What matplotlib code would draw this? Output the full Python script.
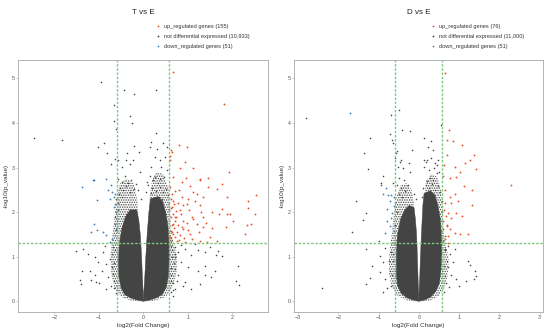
import matplotlib
matplotlib.use("Agg")
import matplotlib.pyplot as plt
from matplotlib.lines import Line2D
import numpy as np

plt.rcParams["font.family"] = ["Liberation Sans", "DejaVu Sans"]
plt.rcParams["hatch.linewidth"] = 0.7

#_____________________________________________________________________________
# T vs E : values

t_up_x = [0.66, 1.80, 0.80, 0.97, 0.64, 0.60, 0.94, 0.82, 1.12, 1.93, 0.67, 1.27, 1.45, 0.87, 1.05,
          1.65, 1.46, 1.76, 0.60, 0.79, 1.20, 0.86, 2.53, 2.34, 1.87, 0.67, 0.97, 1.27, 0.64, 0.82,
          1.54, 1.76, 1.95, 1.87, 2.51, 2.36, 1.09, 0.71, 1.35, 0.90, 1.20, 2.02, 2.41, 2.32, 1.85,
          0.67, 0.86, 1.01, 1.35, 2.28, 1.50, 0.64, 0.82, 1.09, 1.27, 1.42, 1.65, 0.75, 0.60, 0.94,
          0.61, 0.63, 0.66, 0.62, 0.68, 0.64, 0.70, 0.62, 0.66, 0.73, 0.61, 0.69, 0.76, 0.72, 0.78,
          0.74, 0.80, 0.62, 0.65, 0.70, 0.78, 0.85, 0.88, 0.92, 0.97, 1.02, 1.05, 1.12, 1.15, 1.25,
          1.30, 1.40, 1.12, 1.00, 0.90, 1.35, 1.55, 1.70, 0.95, 0.61, 0.59, 1.27]
t_up_y = [5.15, 4.43, 3.50, 3.46, 3.35, 3.16, 3.12, 3.00, 3.00, 2.89, 2.79, 2.73, 2.76, 2.67, 2.58,
          2.52, 2.56, 2.64, 2.56, 2.49, 2.41, 2.34, 2.39, 2.26, 2.34, 2.26, 2.19, 2.15, 2.11, 2.04,
          2.00, 2.06, 1.96, 1.95, 1.95, 2.09, 1.90, 1.89, 1.89, 1.81, 1.74, 1.81, 1.74, 1.70, 1.66,
          1.74, 1.66, 1.59, 1.66, 1.51, 1.44, 1.55, 1.48, 1.40, 1.36, 1.33, 1.36, 1.36, 1.44, 1.33,
          1.35, 1.42, 1.50, 1.58, 1.65, 1.72, 1.80, 1.88, 1.95, 2.02, 2.10, 2.18, 1.55, 1.45, 1.70,
          1.88, 1.38, 2.30, 2.40, 2.48, 2.20, 1.95, 1.62, 1.42, 1.75, 2.05, 1.50, 1.85, 2.25, 1.55,
          2.00, 1.75, 2.45, 2.30, 2.15, 2.35, 1.65, 1.95, 2.77, 3.39, 3.27, 2.75]

t_down_x = [-0.84, -1.12, -1.39, -0.80, -0.71, -0.64, -0.67, -0.76, -1.05, -0.64, -0.67, -0.61,
            -1.12, -1.18, -1.05, -0.90, -0.84, -0.71, -0.64, -0.75, -0.64, -0.60, -0.73, -0.62]
t_down_y = [2.75, 2.71, 2.56, 2.49, 2.45, 2.41, 2.34, 2.30, 2.28, 2.19, 2.11, 2.00,
            1.74, 1.55, 1.59, 1.55, 1.48, 1.40, 1.48, 1.33, 1.74, 1.85, 2.60, 1.62]

t_ns_x = [-0.96, -0.43, -0.22, 0.28, -0.67, -0.30, -0.67, -0.25, -0.62, 0.28, -2.46, -1.82, -0.89,
          -1.03, -0.81, -0.72, -0.64, 0.16, 0.43, 0.54, 0.14, 0.31, -0.22, -0.10, -0.37, -0.57,
          -0.40, -0.23, 0.25, 0.37, 0.48, -0.31, -0.49, -0.08, 0.18, 0.40, 0.52, -0.42, -0.27, 0.14,
          0.25, 0.37, 0.46, 0.22, -0.57, -1.13, -0.48, -0.34, -0.16, 0.07, 0.33,
          -0.52, -0.45, -0.38, -0.30, -0.22, -0.55, -0.47, 0.20, 0.28, 0.38, 0.45, 0.50, 0.55, 0.18,
          0.35, 0.42, -0.58, -0.56, 0.57, 0.58,
          -1.51, -1.36, -1.24, -1.08, -0.91, -0.83, -0.94, -1.21, -1.09, -0.79, -1.43, -1.41, -1.06,
          -1.00, -0.83, -0.72, -0.70, -0.76, -1.02, -0.87, -0.68, -1.18, -1.39,
          0.70, 0.78, 0.93, 1.08, 1.23, 1.38, 1.49, 1.64, 1.68, 0.85, 1.00, 0.70, 0.63, 0.78, 0.93,
          0.89, 1.08, 1.27, 1.53, 1.60, 1.23, 0.70, 0.63, 1.38, 2.13, 2.09, 2.14, 0.70, 0.85, 1.15,
          1.76, 1.39,
          -0.65, -0.68, -0.66, -0.70, -0.64, -0.66, -0.62, 0.66, 0.68, 0.72, 0.65, 0.75, 0.66,
          -0.61, -0.63, -0.62, 0.62, 0.64, 0.63, 0.61, 0.67, -0.12, 0.10, -0.05, 0.05]
t_ns_y = [4.92, 4.75, 4.66, 4.75, 4.40, 4.16, 4.04, 3.99, 3.87, 3.78, 3.66, 3.62, 3.55,
          3.46, 3.33, 3.09, 3.20, 3.57, 3.54, 3.45, 3.45, 3.42, 3.48, 3.35, 3.33, 3.16,
          3.16, 3.18, 3.24, 3.16, 3.24, 3.09, 3.01, 2.90, 3.01, 3.01, 2.94, 2.82, 2.71, 2.82,
          2.79, 2.75, 2.79, 2.73, 2.75, 2.73, 2.67, 2.65, 2.64, 2.67, 2.65,
          2.55, 2.50, 2.58, 2.45, 2.52, 2.40, 2.35, 2.55, 2.48, 2.57, 2.45, 2.52, 2.38, 2.42,
          2.35, 2.30, 2.20, 2.05, 2.20, 2.05,
          1.12, 1.18, 1.06, 0.99, 1.10, 0.84, 0.69, 0.69, 0.58, 0.54, 0.48, 0.39, 0.43,
          0.40, 0.28, 0.35, 0.76, 0.95, 0.88, 1.25, 1.21, 0.48, 0.69,
          1.21, 1.10, 1.18, 1.03, 1.14, 1.10, 1.21, 1.03, 1.12, 0.88, 0.76, 0.73, 0.58, 0.58, 0.43,
          0.35, 0.28, 0.39, 0.54, 0.69, 0.69, 0.28, 0.20, 0.80, 0.80, 0.46, 0.37, 0.99, 1.27, 1.29,
          1.01, 0.59,
          0.45, 0.62, 0.85, 1.05, 1.15, 0.30, 0.18, 0.40, 0.85, 1.05, 1.15, 0.45, 0.12,
          1.60, 1.90, 2.30, 1.25, 1.00, 0.75, 0.45, 0.25, 2.50, 2.60, 2.30, 2.45]

# dense core outlines (left lobe, right lobe)
t_core_l_x = [0.0, -0.15, -0.30, -0.42, -0.50, -0.55, -0.56, -0.54, -0.48, -0.40, -0.30,
              -0.15, -0.10, -0.065, -0.04, -0.02, -0.005]
t_core_l_y = [0.0, 0.03, 0.08, 0.15, 0.30, 0.55, 0.90, 1.30, 1.65, 1.90, 2.05,
              2.05, 1.80, 1.45, 1.00, 0.50, 0.20]
t_core_r_x = [0.0, 0.15, 0.30, 0.42, 0.51, 0.56, 0.58, 0.58, 0.55, 0.50, 0.43, 0.33,
              0.16, 0.12, 0.085, 0.055, 0.03, 0.008]
t_core_r_y = [0.0, 0.03, 0.08, 0.15, 0.30, 0.55, 0.90, 1.30, 1.70, 2.00, 2.25, 2.35,
              2.30, 1.95, 1.50, 1.00, 0.50, 0.20]

# sparser halo around the core
t_halo_l_x = [0.0, -0.30, -0.50, -0.64, -0.72, -0.74, -0.70, -0.64, -0.60, -0.52, -0.38, -0.22,
              -0.14, -0.09, -0.03]
t_halo_l_y = [-0.02, 0.02, 0.10, 0.28, 0.60, 1.00, 1.45, 1.95, 2.35, 2.65, 2.75, 2.65,
              2.30, 1.60, 0.60]
t_halo_r_x = [0.0, 0.30, 0.50, 0.64, 0.74, 0.76, 0.68, 0.62, 0.60, 0.56, 0.45, 0.30, 0.20,
              0.14, 0.09, 0.03]
t_halo_r_y = [-0.02, 0.02, 0.10, 0.28, 0.60, 1.00, 1.30, 1.60, 2.10, 2.55, 2.85, 2.90, 2.75,
              2.35, 1.60, 0.60]

#_____________________________________________________________________________
# D vs E : values

d_up_x = [0.65, 0.74, 0.71, 0.84, 1.06, 1.36, 1.27, 0.71, 1.42, 1.14, 0.89, 0.63, 1.02, 0.77, 0.93,
          2.30, 1.31, 1.12, 0.89, 0.77, 0.65, 0.81, 0.98, 1.31, 0.73, 0.93, 1.06, 0.81, 0.69, 0.77,
          0.89, 1.02, 1.22, 0.73, 0.60, 0.73, 0.65, 0.60, 0.60, 0.62, 0.66, 0.70, 0.64, 0.61, 0.68]
d_up_y = [5.12, 3.84, 3.62, 3.59, 3.50, 3.28, 3.17, 3.28, 2.97, 3.10, 3.02, 3.06, 2.89, 2.76, 2.78,
          2.60, 2.50, 2.58, 2.41, 2.35, 2.20, 2.20, 2.24, 2.15, 1.98, 1.98, 1.91, 1.87, 1.72, 1.61,
          1.54, 1.50, 1.50, 1.46, 1.35, 1.31, 1.46, 1.61, 1.80, 2.05, 1.40, 1.68, 2.50, 2.80, 1.92]

d_down_x = [-1.71, -0.93, -0.82, -0.76, -0.68, -0.62, -0.88, -0.72, -0.78, -0.66, -0.62, -0.80,
            -0.72, -0.84, -0.62, -0.68]
d_down_y = [4.23, 2.60, 2.55, 2.39, 2.39, 2.35, 2.41, 2.24, 2.07, 1.98, 2.13, 1.80,
            1.69, 1.54, 1.57, 1.87]

d_ns_x = [-2.81, -0.69, -0.50, -0.41, -0.22, -0.72, -1.21, -0.66, -0.64, 0.12, 0.55, -0.16, -1.37,
          -1.26, -0.55, -0.58, 0.23, 0.36, 0.17, 0.31, 0.44, -0.24, -0.47, -0.39, -0.89, -0.94,
          -1.55, -1.30, -1.38, -1.67, -1.32, -0.99, -0.84, -0.97, -0.89, -1.22, -1.32, -2.40, -1.17,
          -0.97, -0.72, -0.84, -0.68, -0.64,
          1.21, 1.27, 1.41, 1.37, 1.18, 1.39, 0.85, 0.73, 0.93, 0.65, 0.75, 1.00, 0.89, 0.77, 0.65,
          0.31, -0.56, -0.43, -0.51, -0.21, 0.12, 0.21, 0.41, 0.47, 0.14, 0.25, 0.37, 0.50, 0.29,
          0.44, -0.50, -0.37, -0.64,
          -0.55, -0.45, -0.35, -0.28, -0.50, -0.42, 0.18, 0.25, 0.33, 0.40, 0.47, 0.52, 0.20, 0.35,
          -0.58, -0.55, 0.57, 0.58, -0.60, -0.62,
          -0.70, -0.75, -0.78, -0.90, 0.70, 0.68, 0.80, 0.62, 0.72, -0.66, -0.63, 0.63, 0.66,
          -0.12, 0.10, -0.06, 0.07]
d_ns_y = [4.11, 4.17, 4.28, 3.84, 3.82, 3.76, 3.67, 3.62, 3.54, 3.67, 3.95, 3.39, 3.32,
          2.97, 3.36, 3.21, 3.47, 3.39, 3.13, 3.21, 3.06, 3.10, 3.13, 2.98, 2.80, 2.65,
          2.26, 1.98, 1.82, 1.56, 1.17, 1.35, 1.20, 1.02, 0.87, 0.53, 0.39, 0.30, 0.79,
          0.65, 0.68, 0.50, 0.35, 0.91,
          0.91, 0.81, 0.57, 0.50, 0.46, 0.68, 0.87, 0.76, 0.50, 0.57, 0.31, 0.35, 1.17, 1.05, 1.17,
          3.60, 3.33, 3.17, 3.02, 2.91, 3.17, 3.17, 3.10, 3.17, 3.02, 2.95, 2.98, 2.91, 2.76,
          2.87, 2.76, 2.72, 2.65,
          2.60, 2.55, 2.48, 2.60, 2.40, 2.35, 2.60, 2.55, 2.62, 2.50, 2.58, 2.45, 2.70, 2.72,
          2.20, 2.00, 2.25, 2.00, 1.70, 1.30,
          1.10, 0.90, 0.30, 0.20, 0.90, 0.40, 0.60, 0.20, 1.25, 0.60, 1.05, 0.80, 1.15,
          2.40, 2.55, 2.30, 2.35]

d_core_l_x = [0.0, -0.15, -0.30, -0.44, -0.53, -0.56, -0.56, -0.53, -0.45, -0.35, -0.24,
              -0.12, -0.085, -0.055, -0.035, -0.018, -0.004]
d_core_l_y = [0.0, 0.03, 0.08, 0.18, 0.35, 0.60, 1.05, 1.50, 1.85, 2.05, 2.15,
              2.10, 1.85, 1.50, 1.00, 0.50, 0.20]
d_core_r_x = [0.0, 0.15, 0.30, 0.42, 0.51, 0.55, 0.57, 0.56, 0.53, 0.47, 0.40, 0.29,
              0.13, 0.10, 0.065, 0.04, 0.022, 0.006]
d_core_r_y = [0.0, 0.03, 0.10, 0.22, 0.40, 0.70, 1.10, 1.50, 1.87, 2.17, 2.38, 2.48,
              2.42, 2.15, 1.50, 1.00, 0.50, 0.20]

d_halo_l_x = [0.0, -0.30, -0.52, -0.66, -0.74, -0.74, -0.68, -0.62, -0.55, -0.45, -0.30, -0.18,
              -0.12, -0.08, -0.03]
d_halo_l_y = [-0.02, 0.02, 0.12, 0.30, 0.60, 1.00, 1.45, 1.95, 2.35, 2.60, 2.65, 2.50,
              2.20, 1.60, 0.60]
d_halo_r_x = [0.0, 0.30, 0.50, 0.64, 0.72, 0.74, 0.66, 0.61, 0.59, 0.54, 0.45, 0.30, 0.18,
              0.13, 0.08, 0.03]
d_halo_r_y = [-0.02, 0.02, 0.12, 0.30, 0.60, 1.00, 1.30, 1.60, 2.10, 2.55, 2.80, 2.85, 2.70,
              2.30, 1.60, 0.60]

#_____________________________________________________________________________
col_up = "#e8522a"
col_ns = "#444444"
col_down = "#4a82b8"
col_line = "#7cc87c"

#_____________________________________________________________________________
def main():

    fig = plt.figure(figsize=(5.5, 3.34), dpi=100)

    ax1 = fig.add_axes([0.0333, 0.066, 0.454, 0.754])
    volcano(ax1, "T vs E", (t_core_l_x, t_core_l_y, t_core_r_x, t_core_r_y),
            (t_halo_l_x, t_halo_l_y, t_halo_r_x, t_halo_r_y),
            t_ns_x, t_ns_y, t_up_x, t_up_y, t_down_x, t_down_y,
            (-2.81, 2.80), [-2, -1, 0, 1, 2], [155, 10933, 51])

    ax2 = fig.add_axes([0.5345, 0.066, 0.4525, 0.754])
    volcano(ax2, "D vs E", (d_core_l_x, d_core_l_y, d_core_r_x, d_core_r_y),
            (d_halo_l_x, d_halo_l_y, d_halo_r_x, d_halo_r_y),
            d_ns_x, d_ns_y, d_up_x, d_up_y, d_down_x, d_down_y,
            (-3.10, 3.08), [-3, -2, -1, 0, 1, 2, 3], [76, 11000, 51])

    fig.savefig("out.png", dpi=100)

#main

#_____________________________________________________________________________
def volcano(ax, title, core, halo, nx, ny, ux, uy, dx, dy, xlim, xticks, counts):

    #speckled halo and dense core of not differential genes
    ax.fill(halo[0], halo[1], facecolor="none", hatch=".......", edgecolor=col_ns, lw=0, zorder=1)
    ax.fill(halo[2], halo[3], facecolor="none", hatch=".......", edgecolor=col_ns, lw=0, zorder=1)
    ax.fill(core[0], core[1], color=col_ns, lw=0.3, ec=col_ns, zorder=2)
    ax.fill(core[2], core[3], color=col_ns, lw=0.3, ec=col_ns, zorder=2)

    ax.scatter(nx, ny, s=1.3, color=col_ns, lw=0, zorder=3)
    ax.scatter(ux, uy, s=1.8, color=col_up, lw=0, zorder=3)
    ax.scatter(dx, dy, s=1.8, color=col_down, lw=0, zorder=3)

    #thresholds
    fc = np.log2(1.5)
    dash = (0, (1.8, 1.2))
    ax.axvline(-fc, color=col_line, lw=1.0, ls=dash, zorder=4)
    ax.axvline(fc, color=col_line, lw=1.0, ls=dash, zorder=4)
    ax.axhline(-np.log10(0.05), color=col_line, lw=1.0, ls=dash, zorder=4)

    ax.set_xlim(xlim)
    ax.set_ylim(-0.24, 5.41)
    ax.set_xticks(xticks)
    ax.set_yticks([0, 1, 2, 3, 4, 5])

    for s in ax.spines.values():
        s.set_color("#a8a8a8")
        s.set_linewidth(0.6)
    ax.tick_params(length=1.5, width=0.4, pad=1, colors="#a8a8a8", labelsize=3.8,
                   labelcolor="#555555")

    ax.set_xlabel("log2(Fold Change)", fontsize=4.6, labelpad=2, color="#333333")
    ax.set_ylabel("-log10(p_value)", fontsize=4.6, labelpad=2, color="#333333")

    ax.text(0.5, 1.19, title, transform=ax.transAxes, ha="center", va="center",
            fontsize=5.8, color="#222222")

    #legend
    handles = [Line2D([0], [0], marker="o", ls="", ms=1.3, mew=0, color=c)
               for c in (col_up, col_ns, col_down)]
    labels = ["up_regulated genes ({:,})".format(counts[0]),
              "not differential expressed ({:,})".format(counts[1]),
              "down_regulated genes ({:,})".format(counts[2])]
    leg = ax.legend(handles, labels, loc="center left", bbox_to_anchor=(0.55, 1.095),
                    frameon=False, fontsize=4.1, handlelength=0.8, handletextpad=0.7,
                    labelspacing=0.85, borderpad=0, borderaxespad=0)
    for t in leg.get_texts():
        t.set_color("#333333")

#volcano

#_____________________________________________________________________________
if __name__ == "__main__":

    main()
